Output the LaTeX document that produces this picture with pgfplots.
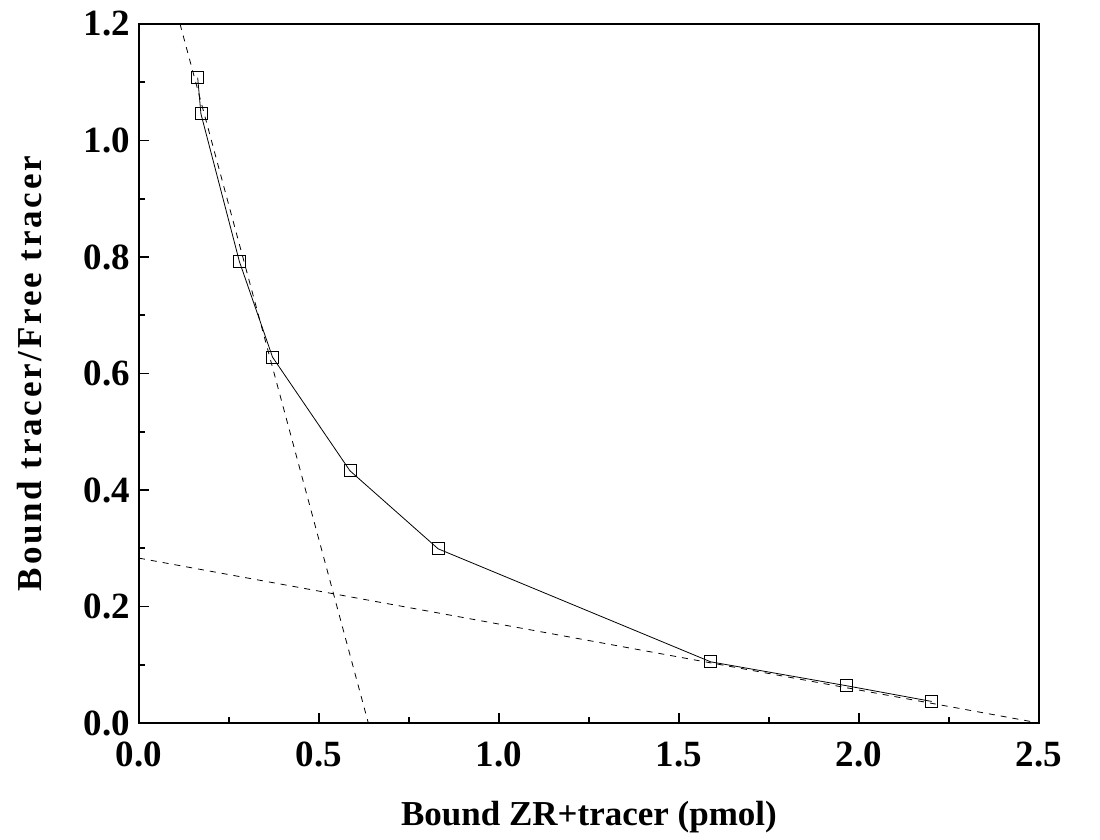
\documentclass[border=0pt]{standalone}
\usepackage{fontspec}
\setmainfont{Liberation Serif}
\usepackage{pgfplots}
\pgfplotsset{compat=1.18}
\begin{document}
\begin{tikzpicture}
\begin{axis}[
  name=ax,
  scale only axis,
  width=450pt, height=349.5pt,
  xmin=0, xmax=2.5, ymin=0, ymax=1.2,
  xtick={0,0.5,...,2.5}, ytick={0,0.2,...,1.2},
  minor xtick={0.25,0.75,...,2.25},
  minor ytick={0.1,0.3,...,1.1},
  tick align=inside,
  xtick pos=bottom, ytick pos=left,
  major tick length=5pt, minor tick length=3pt,
  tick style={black, line width=0.8pt},
  axis line style={line width=1pt},
  /pgf/number format/assume math mode=true,
  /pgf/number format/.cd, fixed, fixed zerofill, precision=1, /pgfplots/.cd,
  ticklabel style={font=\fontsize{18.5}{22}\selectfont\bfseries},
  xticklabel style={yshift=-6pt},
  yticklabel style={xshift=-1pt},
  xlabel={Bound ZR+tracer (pmol)},
  ylabel={\addfontfeature{LetterSpace=8}Bound tracer/Free tracer},
  label style={font=\fontsize{17.5}{20}\selectfont\bfseries},
  xlabel style={yshift=-10pt},
  ylabel style={yshift=14pt},
  clip=false,
]
\addplot[black, dashed, thin] coordinates {(0.114,1.2) (0.637,0)};
\addplot[black, dashed, thin] coordinates {(0,0.283) (2.5,0)};
\addplot[black, thin, mark=square, mark size=3pt, mark options={solid, fill=white}] coordinates {
 (0.163,1.108) (0.172,1.046) (0.279,0.792) (0.371,0.628) (0.586,0.433)
 (0.831,0.299) (1.588,0.105) (1.965,0.064) (2.202,0.037)};
\end{axis}
\path[use as bounding box] (ax.south west) ++(-69.5pt,-58.5pt) rectangle ++(550pt,420pt);
\end{tikzpicture}
\end{document}
